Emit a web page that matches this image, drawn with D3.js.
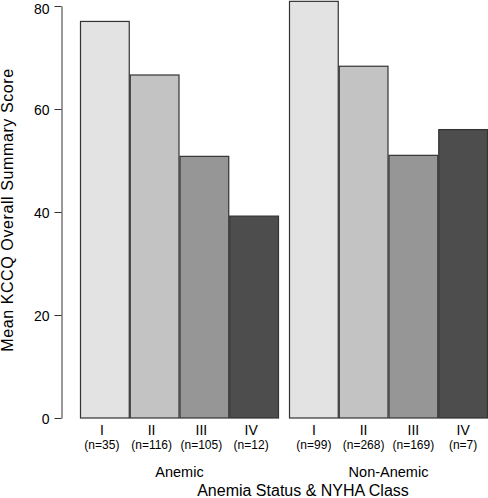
<!DOCTYPE html>
<html>
<head>
<meta charset="utf-8">
<script src="https://cdn.jsdelivr.net/npm/d3@7"></script>
<style>
  html, body { margin: 0; padding: 0; background: #fff; }
  svg { display: block; font-family: "Liberation Sans", Arial, sans-serif; }
</style>
</head>
<body>
<svg id="chart" width="488" height="498"></svg>
<script>
// ---- data ----
const groups = ["Anemic", "Non-Anemic"];
const classes = ["I", "II", "III", "IV"];
const anemicValues = [77.1, 66.7, 50.9, 39.3];
const nonAnemicValues = [81.0, 68.4, 51.1, 56.1];
const anemicN = ["(n=35)", "(n=116)", "(n=105)", "(n=12)"];
const nonAnemicN = ["(n=99)", "(n=268)", "(n=169)", "(n=7)"];
const yTicks = [0, 20, 40, 60, 80];
const classColors = ["#e3e3e3", "#c3c3c3", "#969696", "#4d4d4d"];

const rows = [];
groups.forEach((g, gi) => {
  const vals = gi === 0 ? anemicValues : nonAnemicValues;
  const ns = gi === 0 ? anemicN : nonAnemicN;
  classes.forEach((c, ci) => rows.push({ group: g, cls: c, value: vals[ci], n: ns[ci], ci }));
});

const svg = d3.select("#chart");

const y = d3.scaleLinear().domain([0, 80]).range([418, 6]);
const x0 = d3.scaleBand().domain(groups).range([80, 488]).paddingInner(10 / 209).paddingOuter(0);
const x1 = d3.scaleBand().domain(classes).range([0, x0.bandwidth()]).padding(0);
const color = d3.scaleOrdinal().domain(classes).range(classColors);

// bars
svg.append("g").selectAll("rect").data(rows).join("rect")
  .attr("x", d => x0(d.group) + x1(d.cls) + 0.5)
  .attr("y", d => y(d.value) + 0.5)
  .attr("width", x1.bandwidth() - 1)
  .attr("height", d => y(0) - y(d.value) - 0.5)
  .attr("fill", d => color(d.cls))
  .attr("stroke", "#333")
  .attr("stroke-width", 1.2);

// y axis
const yAxis = svg.append("g")
  .attr("transform", "translate(61.5,0)")
  .call(d3.axisLeft(y).tickValues(yTicks).tickSize(7).tickSizeOuter(0).tickPadding(5));
yAxis.select(".domain").attr("stroke", "#333");
yAxis.selectAll(".tick line").attr("stroke", "#333");
yAxis.selectAll(".tick text")
  .attr("font-size", 14)
  .attr("font-family", "Liberation Sans, Arial, sans-serif")
  .attr("fill", "#000")
  .attr("dy", d => d === 80 ? "0.5em" : "0.36em");

// y label
svg.append("text")
  .attr("transform", "translate(13,210) rotate(-90)")
  .attr("text-anchor", "middle")
  .attr("font-size", 16)
  .attr("letter-spacing", 0.6)
  .attr("fill", "#000")
  .text("Mean KCCQ Overall Summary Score");

// class labels
svg.append("g").selectAll("text").data(rows).join("text")
  .attr("x", d => x0(d.group) + x1(d.cls) + x1.bandwidth() / 2 - (d.group === "Anemic" ? 3 : 0))
  .attr("y", 435)
  .attr("text-anchor", "middle")
  .attr("font-size", 14)
  .attr("fill", "#000")
  .text(d => d.cls);

svg.append("g").selectAll("text").data(rows).join("text")
  .attr("x", d => x0(d.group) + x1(d.cls) + x1.bandwidth() / 2 - (d.group === "Anemic" ? 3 : 0))
  .attr("y", 449)
  .attr("text-anchor", "middle")
  .attr("font-size", 12)
  .attr("fill", "#000")
  .text(d => d.n);

// group labels
svg.append("g").selectAll("text").data(groups).join("text")
  .attr("x", d => x0(d) + x0.bandwidth() / 2)
  .attr("y", 477)
  .attr("text-anchor", "middle")
  .attr("font-size", 14.5)
  .attr("fill", "#000")
  .text(d => d);

// x title
svg.append("text")
  .attr("x", 303)
  .attr("y", 496)
  .attr("text-anchor", "middle")
  .attr("font-size", 16)
  .attr("fill", "#000")
  .text("Anemia Status & NYHA Class");
</script>
</body>
</html>
